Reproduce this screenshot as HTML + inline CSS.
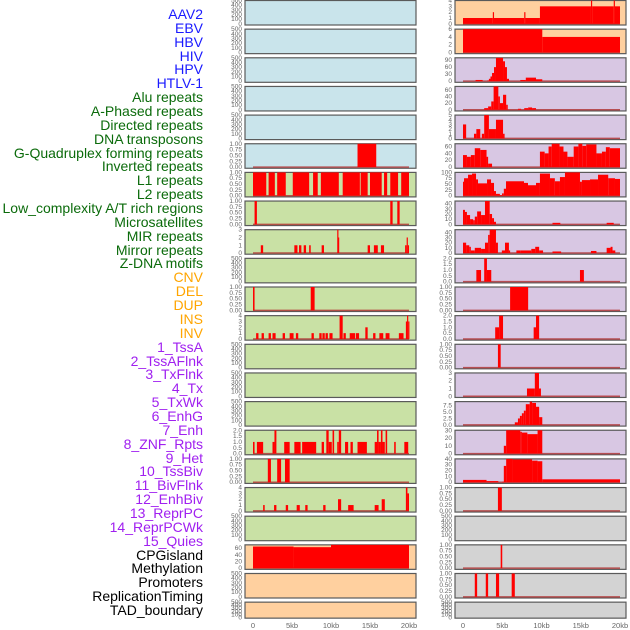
<!DOCTYPE html>
<html><head><meta charset="utf-8">
<style>
body{margin:0;background:#fff;width:630px;height:630px;overflow:hidden;font-family:"Liberation Sans",sans-serif}
#labels div{position:absolute;right:427px;font-size:14px;line-height:14px;white-space:nowrap}
</style></head>
<body>
<div id="labels"></div>
<svg id="chart" width="630" height="630" style="position:absolute;left:0;top:0"></svg>
<script>
const labelNames=["AAV2","EBV","HBV","HIV","HPV","HTLV-1","Alu repeats","A-Phased repeats","Directed repeats","DNA transposons","G-Quadruplex forming repeats","Inverted repeats","L1 repeats","L2 repeats","Low_complexity A/T rich regions","Microsatellites","MIR repeats","Mirror repeats","Z-DNA motifs","CNV","DEL","DUP","INS","INV","1_TssA","2_TssAFlnk","3_TxFlnk","4_Tx","5_TxWk","6_EnhG","7_Enh","8_ZNF_Rpts","9_Het","10_TssBiv","11_BivFlnk","12_EnhBiv","13_ReprPC","14_ReprPCWk","15_Quies","CPGisland","Methylation","Promoters","ReplicationTiming","TAD_boundary"];
const labelGroups=[6,13,5,15,5];
const groupColors=["#1a1aff","#0b6b0b","#ffa500","#a020f0","#000000"];

const E=[0,100,200,300,400,500];
const P1=[0,0.25,0.5,0.75,1.0];
// left column
const leftBg=["#c9e4eb","#c9e4eb","#c9e4eb","#c9e4eb","#c9e4eb","#c9e4eb","#c9e1a5","#c9e1a5","#c9e1a5","#c9e1a5","#c9e1a5","#c9e1a5","#c9e1a5","#c9e1a5","#c9e1a5","#c9e1a5","#c9e1a5","#c9e1a5","#c9e1a5","#ffd09f","#ffd09f","#ffd09f"];
const leftTicks=[E,E,E,E,E,P1,P1,P1,[0,1,2,3],E,P1,[0,1,2,3,4],E,E,E,[0,0.5,1,1.5,2],P1,[0,1,2,3,4],E,[0,20,40,60],E,E];
const leftBars=[[],[],[],[],[],
[[13.4,15.8,1]],
[[0,1.7,1],[2,2.8,1],[3.1,4.2,1],[5.1,7.2,1],[7.7,8.3,1],[8.7,11,1],[11.5,13.7,1],[13.8,14.7,1],[15,16.5,1],[16.8,17.2,1],[17.6,18.6,1],[19,20,1]],
[[0.2,0.5,1],[17.6,17.9,1],[18.5,18.8,1]],
[[1,1.3,1],[5.3,5.7,1],[5.9,6.2,1],[6.5,6.8,1],[7.2,7.4,1],[8.8,9.1,1],[10.8,10.9,3],[10.9,11,2],[14.7,15,1],[15.5,16,1],[16.4,16.8,1],[19.5,19.7,1],[19.7,19.85,2],[19.85,20,1]],
[],
[[0,0.2,1],[7.4,7.9,1]],
[[0.4,0.7,1],[1.1,1.4,1],[2,2.3,1],[2.5,2.9,1],[3.8,4.1,1],[4.7,5.2,1],[5.5,5.8,1],[7.5,7.8,1],[8.5,8.8,1],[8.9,9.2,1],[9.3,9.6,1],[9.8,10.2,1],[11.1,11.5,4],[11.6,11.9,1],[12.4,13.1,1],[13.2,13.6,1],[14.4,14.7,2],[15.4,15.7,1],[16.2,16.7,1],[17,17.5,1],[18.7,19.3,1],[19.6,19.75,3],[19.75,19.9,4],[19.9,20,3]],
[],[],[],
[[0,0.2,1],[0.5,1.3,1],[2.5,2.75,1],[2.75,3,2],[4,4.7,1],[5.3,6.1,1],[6.3,8.1,1],[8.8,9.1,1],[9.4,9.7,2],[9.7,10.1,1],[10.2,10.4,2],[10.8,11,1],[11,11.3,2],[11.8,12.2,1],[12.5,12.8,1],[13.4,14.6,1],[15.6,15.9,1],[15.9,16.1,2],[16.1,16.4,1],[16.4,16.6,2],[16.6,16.9,1],[17,17.2,2],[18.1,18.3,1],[19.4,19.9,1]],
[[1.9,2.3,1],[3.1,3.6,1],[4.1,4.7,1]],
[[1.3,1.5,1],[2.7,3,1],[4.2,4.5,1],[5.6,6,1],[6.7,7,1],[9,9.3,1],[10.9,11.3,2],[12.2,12.9,1],[15.6,16.1,1],[16.5,16.9,2],[19.6,19.8,4],[19.8,20,3]],
[],
[[0,5.2,65],[5.2,10,63],[10,20,70]],
[],[]];
// right column
const rightBg=["#ffd09f","#ffd09f","#d8c7e3","#d8c7e3","#d8c7e3","#d8c7e3","#d8c7e3","#d8c7e3","#d8c7e3","#d8c7e3","#d8c7e3","#d8c7e3","#d8c7e3","#d8c7e3","#d8c7e3","#d8c7e3","#d8c7e3","#d3d3d3","#d3d3d3","#d3d3d3","#d3d3d3","#d3d3d3"];
const rightTicks=[[0,1,2,3,4],[0,2,4,6],[0,30,60,90],[0,20,40,60],[0,1,2,3,4,5],[0,20,40,60],[0,25,50,75,100],[0,10,20,30,40],[0,10,20,30,40],[0,0.5,1,1.5,2],P1,[0,0.5,1,1.5,2],P1,[0,1,2,3],[0,2.5,5,7.5],[0,10,20,30],[0,10,20,30,40],P1,E,P1,P1,E];
const rightBars=[
[[0,3.8,1],[3.8,3.95,2],[3.95,7.8,1],[7.8,7.95,2],[7.95,9.8,1],[9.8,16.3,3],[16.3,16.45,4],[16.45,19.2,3],[19.2,19.35,4],[19.35,20,3]],
[[0,10.1,6],[10.1,20,4]],
[[1.6,2.5,5],[3.1,3.3,3],[3.3,3.5,10],[3.5,3.7,20],[3.7,3.95,35],[3.95,4.2,60],[4.2,5.1,100],[5.1,5.35,85],[5.35,5.6,60],[5.6,5.86,10],[7.3,8,5],[8,9.3,15],[9.3,10.1,8]],
[[2.7,3.2,5],[3.2,3.6,10],[3.6,3.9,25],[3.9,4.5,70],[4.5,4.7,40],[4.7,5.1,20],[5.1,5.5,45],[5.5,5.7,15],[7,7.4,3],[7.8,8.3,5],[8.3,8.8,7],[8.8,9.3,5]],
[[0,0.4,3],[1.4,1.7,1],[1.7,2.2,2],[2.4,2.7,1],[2.7,3.3,5],[3.3,4.2,2],[4.2,5.1,4],[5.1,5.3,1]],
[[0,0.5,35],[0.5,1,30],[1,1.5,35],[1.5,2.2,55],[2.2,3,50],[3,3.2,30],[3.2,3.7,10],[9.8,10.4,45],[10.4,10.9,40],[10.9,11.3,60],[11.3,12.3,68],[12.3,12.8,60],[12.8,13.3,45],[13.3,14.1,30],[14.1,14.7,60],[14.7,15.2,68],[15.2,15.7,62],[15.7,17,66],[17,17.7,40],[17.7,18.2,45],[18.2,18.7,58],[18.7,20,55]],
[[0,0.13,60],[0.13,0.64,75],[0.64,1.15,90],[1.15,1.66,95],[1.66,1.91,70],[1.91,3.06,53],[3.06,3.57,70],[3.57,3.95,55],[3.95,4.2,20],[4.2,4.7,8],[4.7,4.97,3],[4.97,5.2,10],[5.2,5.48,30],[5.48,7.77,62],[7.77,8.28,55],[8.28,9.3,45],[9.3,9.8,55],[9.8,11.08,95],[11.08,11.7,75],[11.7,12.35,62],[12.35,12.99,80],[12.99,14.9,100],[14.9,15.15,60],[15.15,16.18,67],[16.18,17.2,70],[17.2,18.5,90],[18.5,19.36,75],[19.36,20,72]],
[[0,0.25,28],[0.25,0.5,24],[0.5,0.9,18],[0.9,1.3,10],[1.3,1.5,8],[1.5,1.8,15],[1.8,2.3,25],[2.3,2.8,18],[2.8,3.4,45],[3.4,3.7,20],[3.7,3.95,12],[3.95,4.2,5],[11.4,12.4,3],[18.3,19.2,3]],
[[0,0.4,20],[0.4,0.8,15],[0.8,1,12],[1,1.5,5],[1.5,2.3,10],[2.3,2.8,8],[2.8,3.2,20],[3.2,3.4,35],[3.4,4.2,45],[4.2,4.45,20],[4.95,5.35,5],[5.35,5.85,20],[5.85,5.95,5],[6.8,7.3,5],[7.3,8.7,5],[8.7,9.2,8],[9.2,9.7,12],[9.7,10.2,5],[11.4,12.5,3],[16.3,17,4],[18.3,18.8,10],[18.8,19.05,12],[19.05,19.4,5]],
[[1.7,2.3,1],[2.7,3.05,2],[3.05,3.6,1],[14.9,15.4,1]],
[[6,8.3,1]],
[[4.1,4.6,1],[4.6,5.1,2],[9,9.3,1],[9.3,9.7,2]],
[[4.45,4.8,1]],
[[8.15,9.15,1],[9.15,9.68,3],[9.68,9.93,1]],
[[6.6,7,1],[7,7.25,2.5],[7.25,7.5,3.5],[7.5,7.75,4.5],[7.75,8,5.5],[8,8.5,8],[8.5,8.8,9],[8.8,9.3,8.5],[9.3,9.7,7],[9.7,10.1,3]],
[[5.2,5.5,10],[5.5,7.3,30],[7.3,7.5,28],[7.5,8.2,27],[8.2,9.5,25],[9.5,10.1,30]],
[[0,3,4],[3,4.5,2],[5,5.2,1],[5.2,5.5,28],[5.5,6.3,40],[6.3,8.8,39],[8.8,9.5,37],[9.5,10.1,36],[10.1,20,5]],
[[4.45,4.95,1]],
[],
[[4.8,5,1]],
[[1.5,1.8,1],[2.9,3.2,1],[4.2,4.6,1],[6.2,6.6,1]],
[]];
const xTicks=[0,5,10,15,20];
const xTickLabels=["0","5kb","10kb","15kb","20kb"];

const NS="http://www.w3.org/2000/svg";
const svg=document.getElementById('chart');
function mk(tag,attrs,parent){const e=document.createElementNS(NS,tag);for(const k in attrs)e.setAttribute(k,attrs[k]);(parent||svg).appendChild(e);return e;}

// labels
const lab=document.getElementById('labels');
let li=0;
labelGroups.forEach((n,g)=>{for(let j=0;j<n;j++){const d=document.createElement('div');


d.textContent=labelNames[li];d.style.color=groupColors[g];d.style.top=(15+li*13.86-8)+'px';lab.appendChild(d);li++;}});

function fmt(v,ticks){const frac=ticks.some(t=>Math.abs(t*100%100)>0.001&&Math.abs(t%0.5)>0.001)?2:(ticks.some(t=>t%1!==0)?1:0);return v.toFixed(frac);}

function drawCol(bgs,ticks,bars,px,pw,x0,kbW,colName){
  for(let i=0;i<bgs.length;i++){
    const top=0.5+i*28.65, h=(i===bgs.length-1)?16:24.5;
    const g=mk('g',{});
    
    
    mk('rect',{x:px,y:top,width:pw,height:h,fill:bgs[i],stroke:'#5a5a5a','stroke-width':1.2},g);
    const tk=ticks[i];const b=bars[i];
    const maxV=Math.max(Math.max(...tk),...b.map(s=>s[2]));
    const lo=-0.05*maxV, hi=maxV;
    const ys=v=>top+h-(v-lo)/(hi-lo)*h;
    const xs=kb=>x0+kb*kbW;
    tk.forEach(t=>{const tx=mk('text',{x:px-3,y:ys(t)+2,'font-size':6.5,fill:'#666','text-anchor':'end'},g);
      
      
      tx.textContent=fmt(t,tk);});
    if(b.length){
      const bl=mk('line',{x1:xs(0),x2:xs(20),y1:ys(0),y2:ys(0),stroke:'#b03030','stroke-width':1.5,opacity:0.8},g);
      
      
    }
    b.forEach(s=>{const r=mk('rect',{x:xs(s[0]),y:ys(s[2]),width:Math.max(1.2,xs(s[1])-xs(s[0])),height:ys(0)-ys(s[2]),fill:'#ff0000'},g);
      
      });
  }
  xTicks.forEach((t,k)=>{const tx=mk('text',{x:x0+t*kbW,y:628,'font-size':7.5,fill:'#666','text-anchor':'middle'});
    
    
    tx.textContent=xTickLabels[k];});
}
drawCol(leftBg,leftTicks,leftBars,245,171,253,7.8,'left');
drawCol(rightBg,rightTicks,rightBars,455,171,463,7.85,'right');
</script>
</body></html>
